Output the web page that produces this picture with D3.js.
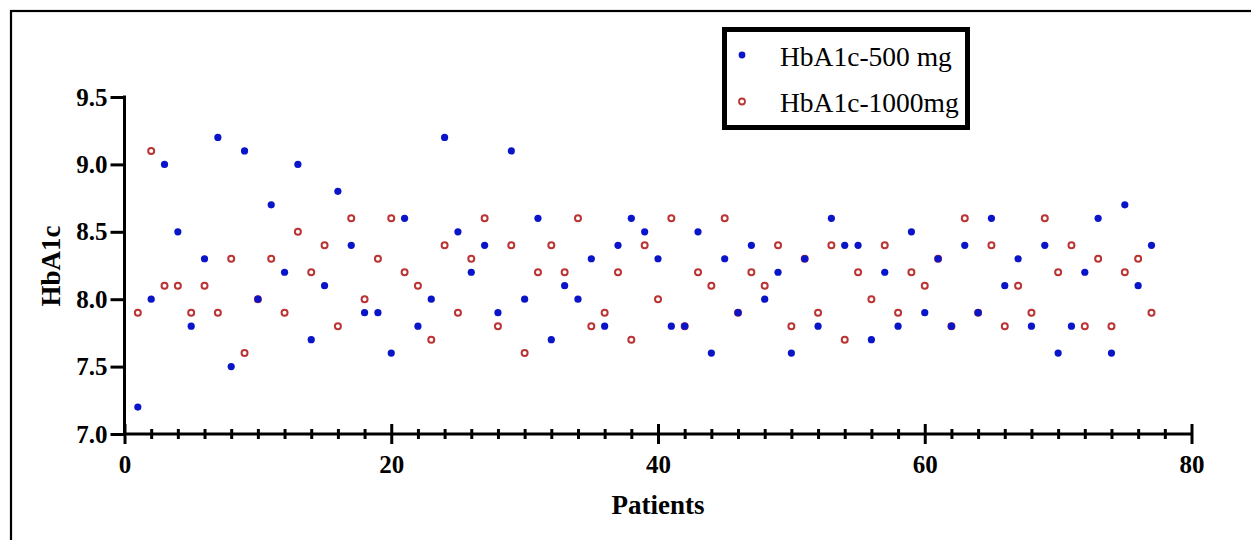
<!DOCTYPE html>
<html>
<head>
<meta charset="utf-8">
<script src="https://cdn.jsdelivr.net/npm/d3@7"></script>
<style>
  html, body { margin: 0; padding: 0; background: #fff; }
  svg { display: block; }
</style>
</head>
<body>
<svg id="chart" width="1251" height="540"></svg>
<script>
// ---- data ----
const patients = d3.range(1, 78);
const hba1c500 = [
  7.2, 8.0, 9.0, 8.5, 7.8, 8.3, 9.2, 7.5, 9.1, 8.0,
  8.7, 8.2, 9.0, 7.7, 8.1, 8.8, 8.4, 7.9, 7.9, 7.6,
  8.6, 7.8, 8.0, 9.2, 8.5, 8.2, 8.4, 7.9, 9.1, 8.0,
  8.6, 7.7, 8.1, 8.0, 8.3, 7.8, 8.4, 8.6, 8.5, 8.3,
  7.8, 7.8, 8.5, 7.6, 8.3, 7.9, 8.4, 8.0, 8.2, 7.6,
  8.3, 7.8, 8.6, 8.4, 8.4, 7.7, 8.2, 7.8, 8.5, 7.9,
  8.3, 7.8, 8.4, 7.9, 8.6, 8.1, 8.3, 7.8, 8.4, 7.6,
  7.8, 8.2, 8.6, 7.6, 8.7, 8.1, 8.4
];
const hba1c1000 = [
  7.9, 9.1, 8.1, 8.1, 7.9, 8.1, 7.9, 8.3, 7.6, 8.0,
  8.3, 7.9, 8.5, 8.2, 8.4, 7.8, 8.6, 8.0, 8.3, 8.6,
  8.2, 8.1, 7.7, 8.4, 7.9, 8.3, 8.6, 7.8, 8.4, 7.6,
  8.2, 8.4, 8.2, 8.6, 7.8, 7.9, 8.2, 7.7, 8.4, 8.0,
  8.6, 7.8, 8.2, 8.1, 8.6, 7.9, 8.2, 8.1, 8.4, 7.8,
  8.3, 7.9, 8.4, 7.7, 8.2, 8.0, 8.4, 7.9, 8.2, 8.1,
  8.3, 7.8, 8.6, 7.9, 8.4, 7.8, 8.1, 7.9, 8.6, 8.2,
  8.4, 7.8, 8.3, 7.8, 8.2, 8.3, 7.9
];
const seriesNames = ["HbA1c-500 mg", "HbA1c-1000mg"];
const xMajorTicks = [0, 20, 40, 60, 80];
const xMinorTicks = d3.range(2, 80, 2).filter(v => v % 20 !== 0);
const yTicks = [7.0, 7.5, 8.0, 8.5, 9.0, 9.5];
const xTitle = "Patients";
const yTitle = "HbA1c";

// ---- styles ----
const BLUE = "#0a14c8";
const RED = "#bb3333";
const FONT = "'Liberation Serif', 'Times New Roman', serif";

const svg = d3.select("#chart");

// outer frame
svg.append("rect")
  .attr("x", 11).attr("y", 11)
  .attr("width", 1260).attr("height", 560)
  .attr("fill", "none").attr("stroke", "#000").attr("stroke-width", 2.2);

const x = d3.scaleLinear().domain([0, 80]).range([124.5, 1191.5]);
const y = d3.scaleLinear().domain([7, 9.5]).range([434, 97]);

// x axis (major)
const gx = svg.append("g").attr("transform", `translate(0,${y(7)})`)
  .call(d3.axisBottom(x).tickValues(xMajorTicks).tickSizeOuter(0).tickFormat(d3.format("d")));
gx.select(".domain").attr("stroke-width", 3).attr("d", `M${x(0)},0H${x(80)}`);
gx.selectAll(".tick line").attr("y1", -10).attr("y2", 10).attr("stroke-width", 3);
gx.selectAll(".tick text")
  .attr("y", 39).attr("dy", 0)
  .attr("font-family", FONT).attr("font-weight", "bold").attr("font-size", 25).attr("fill", "#000");

// x axis (minor)
const gxm = svg.append("g").attr("transform", `translate(0,${y(7)})`)
  .call(d3.axisBottom(x).tickValues(xMinorTicks).tickSizeOuter(0).tickFormat(""));
gxm.select(".domain").remove();
gxm.selectAll(".tick line").attr("y1", -5).attr("y2", 5).attr("stroke-width", 3);

// y axis
const gy = svg.append("g").attr("transform", `translate(${x(0)},0)`)
  .call(d3.axisLeft(y).tickValues(yTicks).tickSizeOuter(0).tickSizeInner(14).tickFormat(d3.format(".1f")));
gy.select(".domain").attr("stroke-width", 3).attr("d", `M0,${y(9.5) - 1.5}V${y(7)}`);
gy.selectAll(".tick line").attr("stroke-width", 3);
gy.selectAll(".tick text")
  .attr("x", -17).attr("dy", "0.32em")
  .attr("font-family", FONT).attr("font-weight", "bold").attr("font-size", 25).attr("fill", "#000");

// axis titles
svg.append("text")
  .attr("x", 658).attr("y", 514)
  .attr("text-anchor", "middle")
  .attr("font-family", FONT).attr("font-weight", "bold").attr("font-size", 27)
  .text(xTitle);
svg.append("text")
  .attr("transform", "translate(60,266) rotate(-90)")
  .attr("text-anchor", "middle")
  .attr("font-family", FONT).attr("font-weight", "bold").attr("font-size", 27)
  .text(yTitle);

// points: 1000 mg (open red) then 500 mg (filled blue)
svg.append("g").selectAll("circle")
  .data(patients.map((p, i) => [p, hba1c1000[i]]))
  .join("circle")
  .attr("cx", d => x(d[0])).attr("cy", d => y(d[1]))
  .attr("r", 3.0)
  .attr("fill", "#fff").attr("stroke", RED).attr("stroke-width", 2);

svg.append("g").selectAll("circle")
  .data(patients.map((p, i) => [p, hba1c500[i]]))
  .join("circle")
  .attr("cx", d => x(d[0])).attr("cy", d => y(d[1]))
  .attr("r", 3.6)
  .attr("fill", BLUE);

// legend
const lg = svg.append("g");
lg.append("rect")
  .attr("x", 724.5).attr("y", 29.5).attr("width", 243).attr("height", 98)
  .attr("fill", "#fff").attr("stroke", "#000").attr("stroke-width", 5);
lg.append("circle").attr("cx", 742).attr("cy", 55).attr("r", 3.4).attr("fill", BLUE);
lg.append("circle").attr("cx", 742).attr("cy", 101.5).attr("r", 3.0)
  .attr("fill", "#fff").attr("stroke", RED).attr("stroke-width", 1.8);
lg.append("text").attr("x", 780).attr("y", 66)
  .attr("font-family", FONT).attr("font-size", 27.5).text(seriesNames[0]);
lg.append("text").attr("x", 780).attr("y", 112)
  .attr("font-family", FONT).attr("font-size", 27.5).text(seriesNames[1]);
</script>
</body>
</html>
